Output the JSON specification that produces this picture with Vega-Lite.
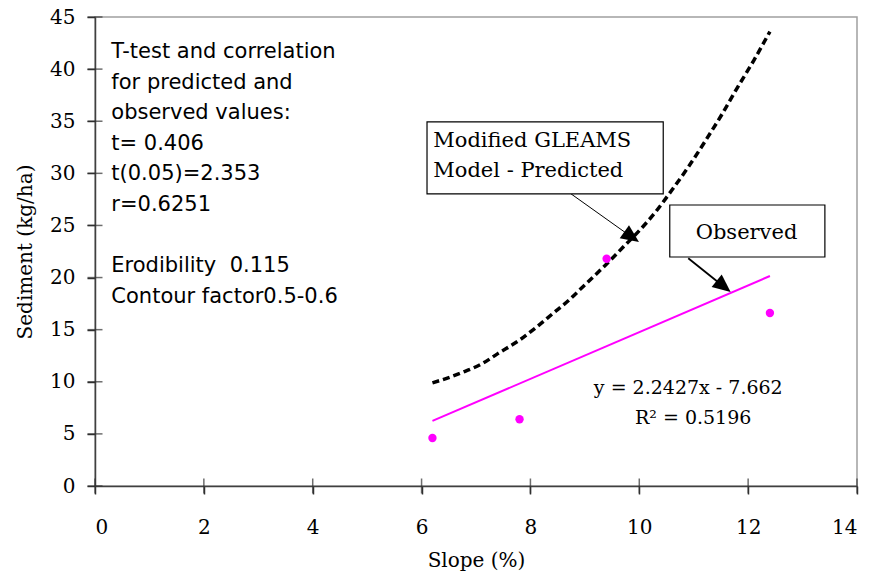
{
  "$schema": "https://vega.github.io/schema/vega-lite/v6.json",
  "width": 762,
  "height": 469,
  "autosize": {"type": "none"},
  "padding": {"left": 95, "top": 17, "right": 14, "bottom": 87},
  "background": "white",
  "config": {
    "view": {"stroke": "#a0a0a0", "strokeWidth": 1.5}
  },
  "datasets": {
    "observed": [
      {"slope": 6.2, "sediment": 4.6},
      {"slope": 7.8, "sediment": 6.4},
      {"slope": 9.4, "sediment": 21.8},
      {"slope": 12.4, "sediment": 16.6}
    ],
    "trend": [
      {"slope": 6.2, "sediment": 6.243},
      {"slope": 12.4, "sediment": 20.147}
    ],
    "predicted": [
      {"slope": 6.2, "sediment": 9.9},
      {"slope": 6.5, "sediment": 10.4},
      {"slope": 6.8, "sediment": 11.0},
      {"slope": 7.1, "sediment": 11.7},
      {"slope": 7.4, "sediment": 12.7},
      {"slope": 7.8, "sediment": 14.0},
      {"slope": 8.1, "sediment": 15.2},
      {"slope": 8.4, "sediment": 16.5},
      {"slope": 8.7, "sediment": 17.8},
      {"slope": 9.0, "sediment": 19.3},
      {"slope": 9.4, "sediment": 21.3},
      {"slope": 9.7, "sediment": 22.9},
      {"slope": 10.0, "sediment": 24.5},
      {"slope": 10.3, "sediment": 26.3},
      {"slope": 10.6, "sediment": 28.4},
      {"slope": 10.9, "sediment": 30.6},
      {"slope": 11.2, "sediment": 33.0},
      {"slope": 11.5, "sediment": 35.5},
      {"slope": 11.8, "sediment": 38.2},
      {"slope": 12.1, "sediment": 40.8},
      {"slope": 12.4, "sediment": 43.6}
    ],
    "xticks": [
      {"slope": 0}, {"slope": 2}, {"slope": 4}, {"slope": 6},
      {"slope": 8}, {"slope": 10}, {"slope": 12}, {"slope": 14}
    ],
    "yticks": [
      {"sediment": 0}, {"sediment": 5}, {"sediment": 10}, {"sediment": 15}, {"sediment": 20},
      {"sediment": 25}, {"sediment": 30}, {"sediment": 35}, {"sediment": 40}, {"sediment": 45}
    ]
  },
  "layer": [
    {
      "data": {"name": "trend"},
      "mark": {"type": "line", "color": "#ff00ff", "strokeWidth": 2},
      "encoding": {
        "x": {
          "field": "slope", "type": "quantitative",
          "scale": {"domain": [0, 14], "nice": false, "zero": false},
          "axis": {
            "title": "Slope (%)", "values": [0, 2, 4, 6, 8, 10, 12, 14], "format": "d",
            "labelFont": "DejaVu Serif", "labelFontSize": 20, "labelColor": "black", "labelPadding": 23,
            "titleFont": "DejaVu Serif", "titleFontSize": 20, "titleFontWeight": "normal", "titleColor": "black",
            "titleY": 80, "titleBaseline": "alphabetic",
            "domainColor": "#404040", "domainWidth": 1.5,
            "tickColor": "#303030", "tickWidth": 1.5, "tickSize": 8, "grid": false
          }
        },
        "y": {
          "field": "sediment", "type": "quantitative",
          "scale": {"domain": [0, 45], "nice": false, "zero": false},
          "axis": {
            "title": "Sediment (kg/ha)", "values": [0, 5, 10, 15, 20, 25, 30, 35, 40, 45], "format": "d",
            "labelFont": "DejaVu Serif", "labelFontSize": 20, "labelColor": "black", "labelPadding": 12,
            "titleFont": "DejaVu Serif", "titleFontSize": 20, "titleFontWeight": "normal", "titleColor": "black",
            "titleX": -64, "titleBaseline": "alphabetic",
            "domainColor": "#404040", "domainWidth": 1.5,
            "tickColor": "#303030", "tickWidth": 1.5, "tickSize": 8, "grid": false
          }
        }
      }
    },
    {
      "data": {"name": "xticks"},
      "mark": {"type": "tick", "orient": "vertical", "color": "#303030", "size": 15, "thickness": 1.5},
      "encoding": {
        "x": {"field": "slope", "type": "quantitative"},
        "y": {"datum": 0, "type": "quantitative"}
      }
    },
    {
      "data": {"name": "yticks"},
      "mark": {"type": "tick", "orient": "horizontal", "color": "#303030", "size": 15, "thickness": 1.5},
      "encoding": {
        "y": {"field": "sediment", "type": "quantitative"},
        "x": {"datum": 0, "type": "quantitative"}
      }
    },
    {
      "data": {"name": "predicted"},
      "mark": {"type": "line", "color": "black", "strokeWidth": 3.5, "strokeDash": [7, 4], "interpolate": "monotone"},
      "encoding": {
        "x": {"field": "slope", "type": "quantitative"},
        "y": {"field": "sediment", "type": "quantitative"}
      }
    },
    {
      "data": {"name": "observed"},
      "mark": {"type": "point", "shape": "circle", "filled": true, "color": "#ff00ff", "size": 70, "opacity": 1},
      "encoding": {
        "x": {"field": "slope", "type": "quantitative"},
        "y": {"field": "sediment", "type": "quantitative"}
      }
    },
    {
      "data": {"values": [{}]},
      "mark": {
        "type": "text", "font": "DejaVu Sans", "fontSize": 21, "align": "left", "baseline": "top",
        "lineHeight": 30.6, "color": "black",
        "text": ["T-test and correlation", "for predicted and", "observed values:", "t= 0.406", "t(0.05)=2.353", "r=0.6251"]
      },
      "encoding": {"x": {"datum": 0.3, "type": "quantitative"}, "y": {"datum": 42.69, "type": "quantitative"}}
    },
    {
      "data": {"values": [{}]},
      "mark": {
        "type": "text", "font": "DejaVu Sans", "fontSize": 21, "align": "left", "baseline": "top",
        "lineHeight": 30.6, "color": "black",
        "text": ["Erodibility\u00a0 0.115", "Contour factor0.5-0.6"]
      },
      "encoding": {"x": {"datum": 0.3, "type": "quantitative"}, "y": {"datum": 22.14, "type": "quantitative"}}
    },
    {
      "data": {"values": [{}]},
      "mark": {"type": "rule", "color": "black", "strokeWidth": 1},
      "encoding": {
        "x": {"datum": 8.73, "type": "quantitative"}, "y": {"datum": 28.09, "type": "quantitative"},
        "x2": {"datum": 9.87}, "y2": {"datum": 23.85}
      }
    },
    {
      "data": {"values": [{}]},
      "mark": {"type": "point", "shape": "M0,-1L0.9,1L-0.9,1Z", "filled": true, "color": "black", "opacity": 1, "size": 320, "angle": 125.2},
      "encoding": {"x": {"datum": 9.86, "type": "quantitative"}, "y": {"datum": 23.9, "type": "quantitative"}}
    },
    {
      "data": {"values": [{}]},
      "mark": {"type": "rect", "fill": "white", "stroke": "black", "strokeWidth": 1.2},
      "encoding": {
        "x": {"datum": 6.10, "type": "quantitative"}, "x2": {"datum": 10.44},
        "y": {"datum": 34.93, "type": "quantitative"}, "y2": {"datum": 28.02}
      }
    },
    {
      "data": {"values": [{}]},
      "mark": {"type": "text", "font": "DejaVu Serif", "fontSize": 21, "align": "left", "baseline": "alphabetic", "color": "black", "text": "Modified GLEAMS"},
      "encoding": {"x": {"datum": 6.215, "type": "quantitative"}, "y": {"datum": 32.56, "type": "quantitative"}}
    },
    {
      "data": {"values": [{}]},
      "mark": {"type": "text", "font": "DejaVu Serif", "fontSize": 21, "align": "left", "baseline": "alphabetic", "color": "black", "text": "Model - Predicted"},
      "encoding": {"x": {"datum": 6.215, "type": "quantitative"}, "y": {"datum": 29.62, "type": "quantitative"}}
    },
    {
      "data": {"values": [{}]},
      "mark": {"type": "rule", "color": "black", "strokeWidth": 1.8},
      "encoding": {
        "x": {"datum": 10.90, "type": "quantitative"}, "y": {"datum": 21.85, "type": "quantitative"},
        "x2": {"datum": 11.56}, "y2": {"datum": 19.09}
      }
    },
    {
      "data": {"values": [{}]},
      "mark": {"type": "point", "shape": "M0,-1L0.9,1L-0.9,1Z", "filled": true, "color": "black", "opacity": 1, "size": 320, "angle": 128.7},
      "encoding": {"x": {"datum": 11.55, "type": "quantitative"}, "y": {"datum": 19.15, "type": "quantitative"}}
    },
    {
      "data": {"values": [{}]},
      "mark": {"type": "rect", "fill": "white", "stroke": "black", "strokeWidth": 1.2},
      "encoding": {
        "x": {"datum": 10.56, "type": "quantitative"}, "x2": {"datum": 13.41},
        "y": {"datum": 26.96, "type": "quantitative"}, "y2": {"datum": 21.97}
      }
    },
    {
      "data": {"values": [{}]},
      "mark": {"type": "text", "font": "DejaVu Serif", "fontSize": 21, "align": "center", "baseline": "alphabetic", "color": "black", "text": "Observed"},
      "encoding": {"x": {"datum": 11.97, "type": "quantitative"}, "y": {"datum": 23.67, "type": "quantitative"}}
    },
    {
      "data": {"values": [{}]},
      "mark": {"type": "text", "font": "DejaVu Serif", "fontSize": 19, "align": "center", "baseline": "alphabetic", "color": "black", "text": "y = 2.2427x - 7.662"},
      "encoding": {"x": {"datum": 10.90, "type": "quantitative"}, "y": {"datum": 8.83, "type": "quantitative"}}
    },
    {
      "data": {"values": [{}]},
      "mark": {"type": "text", "font": "DejaVu Serif", "fontSize": 19, "align": "center", "baseline": "alphabetic", "color": "black", "text": "R² = 0.5196"},
      "encoding": {"x": {"datum": 10.99, "type": "quantitative"}, "y": {"datum": 5.95, "type": "quantitative"}}
    }
  ]
}
